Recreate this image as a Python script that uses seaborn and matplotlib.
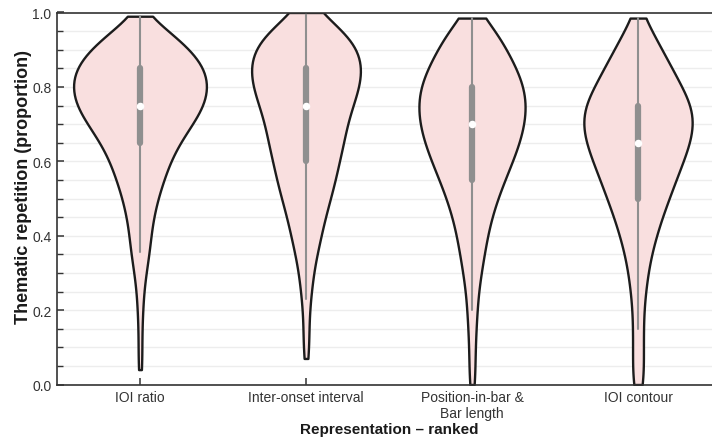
import numpy as np
import pandas as pd
import matplotlib
matplotlib.use("Agg")
import matplotlib.pyplot as plt
from matplotlib.ticker import MultipleLocator
import seaborn as sns

# Representations, in ranked order
representations = [
    "IOI ratio",
    "Inter-onset interval",
    "Position-in-bar &\nBar length",
    "IOI contour",
]

# Thematic-repetition proportions per representation: value levels and how
# many pieces fall on each level
ioi_ratio_values = [0.04, 0.095, 0.15, 0.205, 0.26, 0.31, 0.355, 0.40, 0.45, 0.50,
                    0.55, 0.60, 0.65, 0.70, 0.75, 0.80, 0.85, 0.90, 0.95, 0.99]
ioi_ratio_counts = [2, 2, 2, 3, 4, 6, 8, 10, 13, 17,
                    23, 29, 38, 51, 63, 67, 64, 50, 28, 2]

inter_onset_values = [0.07, 0.115, 0.17, 0.23, 0.29, 0.35, 0.40, 0.45, 0.50,
                      0.55, 0.60, 0.65, 0.70, 0.75, 0.80, 0.85, 0.90, 0.95, 1.00]
inter_onset_counts = [2, 3, 3, 5, 8, 11, 14, 18, 23,
                      28, 31, 36, 38, 44, 51, 54, 51, 39, 10]

position_bar_values = [0.00, 0.05, 0.10, 0.15, 0.20, 0.25, 0.30, 0.35, 0.40, 0.45,
                       0.50, 0.55, 0.60, 0.65, 0.70, 0.75, 0.80, 0.85, 0.90, 0.95, 0.985]
position_bar_counts = [3, 3, 3, 4, 5, 6, 9, 12, 15, 19,
                       25, 32, 40, 47, 52, 54, 52, 44, 34, 24, 6]

ioi_contour_values = [0.00, 0.05, 0.10, 0.15, 0.20, 0.25, 0.30, 0.35, 0.40, 0.45,
                      0.50, 0.55, 0.60, 0.65, 0.70, 0.75, 0.80, 0.85, 0.90, 0.95, 0.985]
ioi_contour_counts = [6, 5, 5, 5, 5, 7, 9, 12, 17, 22,
                      29, 35, 42, 49, 53, 52, 40, 32, 22, 13, 2]

series = [
    (ioi_ratio_values, ioi_ratio_counts),
    (inter_onset_values, inter_onset_counts),
    (position_bar_values, position_bar_counts),
    (ioi_contour_values, ioi_contour_counts),
]

frames = []
for name, (vals, cnts) in zip(representations, series):
    obs = np.repeat(vals, cnts)
    frames.append(pd.DataFrame({"representation": name, "repetition": obs}))
df = pd.concat(frames, ignore_index=True)

sns.set_style("ticks")
plt.rcParams["font.family"] = ["Liberation Sans", "DejaVu Sans"]

fig = plt.figure(figsize=(7.12, 4.39), dpi=100)
ax = fig.add_axes([57 / 712, 53.5 / 439, 664 / 712, 372 / 439])

sns.violinplot(
    data=df, x="representation", y="repetition", order=representations,
    color="#f9dfdf", saturation=1, linecolor="#1c1c1c", linewidth=1.7,
    cut=0, inner="box", density_norm="area", width=0.8, bw_adjust=0.85,
    inner_kws=dict(color="#8f8f8f", box_width=4.5, whis_width=1.5,
                   marker="o", markersize=4.5,
                   markerfacecolor="white", markeredgecolor="white"),
    ax=ax,
)

ax.set_xlim(-0.5, 3.5)
ax.set_ylim(0, 1.0)
ax.yaxis.set_major_locator(MultipleLocator(0.2))
ax.yaxis.set_minor_locator(MultipleLocator(0.05))
ax.grid(axis="y", which="both", color="#ededed", linewidth=1.0)
ax.set_axisbelow(True)

ax.tick_params(axis="both", which="major", direction="in", length=5, width=1.1,
               color="#333333", labelcolor="#333333", labelsize=10, pad=4)
ax.tick_params(axis="y", which="minor", direction="in", length=4.5, width=1.0,
               color="#333333")

for side in ["top", "left", "bottom"]:
    ax.spines[side].set_visible(True)
    ax.spines[side].set_color("#333333")
    ax.spines[side].set_linewidth(1.2)
ax.spines["right"].set_visible(False)

ax.set_xlabel("Representation \u2013 ranked", fontsize=11, fontweight="bold",
              color="#1a1a1a", labelpad=1)
ax.set_ylabel("Thematic repetition (proportion)", fontsize=13, fontweight="bold",
              color="#1a1a1a")
ax.yaxis.set_label_coords(-0.038, 0.534)

fig.savefig("out.png", dpi=100)
